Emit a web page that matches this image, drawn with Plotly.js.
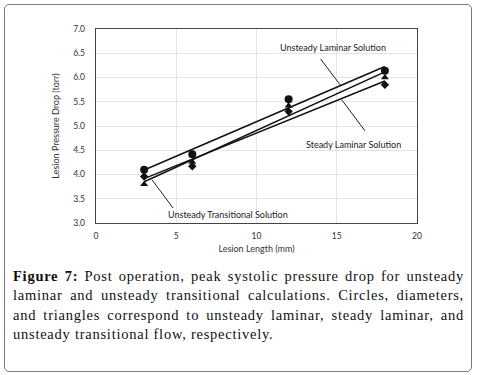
<!DOCTYPE html>
<html>
<head>
<meta charset="utf-8">
<script src="https://cdn.plot.ly/plotly-3.0.1.min.js"></script>
<style>
  html, body { margin: 0; padding: 0; background: #fff; }
  #frame { position: absolute; left: 4px; top: 4px; width: 466px; height: 366px;
           border: 1.3px solid #777; border-radius: 5px; }
  #chart { position: absolute; left: 0; top: 0; width: 477px; height: 260px; }
  #caption { position: absolute; left: 13px; top: 267px; width: 451px;
             font-family: "Liberation Serif", "DejaVu Serif", serif; font-size: 14.5px;
             letter-spacing: 0.75px; line-height: 19.3px; color: #111; }
  #caption div { text-align: justify; text-align-last: justify; white-space: nowrap; }
  #caption div.last { text-align-last: left; }
  #caption b { font-weight: 600; }
</style>
</head>
<body>
<div id="frame"></div>
<div id="chart"></div>
<div id="caption">
  <div><b>Figure 7:</b> Post operation, peak systolic pressure drop for unsteady</div>
  <div>laminar and unsteady transitional calculations. Circles, diameters,</div>
  <div>and triangles correspond to unsteady laminar, steady laminar, and</div>
  <div class="last">unsteady transitional flow, respectively.</div>
</div>
<script>
const lengths = [3, 6, 12, 18];
const unsteadyLaminar = [4.10, 4.42, 5.55, 6.14];
const steadyLaminar = [3.96, 4.17, 5.30, 5.85];
const unsteadyTransitional = [3.80, 4.26, 5.42, 6.00];
const xTicks = [0, 5, 10, 15, 20];

function fit(x, y) {
  const n = x.length;
  const mx = x.reduce((a, b) => a + b, 0) / n;
  const my = y.reduce((a, b) => a + b, 0) / n;
  let sxy = 0, sxx = 0;
  for (let i = 0; i < n; i++) { sxy += (x[i] - mx) * (y[i] - my); sxx += (x[i] - mx) ** 2; }
  const m = sxy / sxx, b = my - m * mx;
  const xs = [Math.min(...x), Math.max(...x)];
  return { x: xs, y: xs.map(v => m * v + b) };
}

const lineStyle = { color: '#111', width: 1.5 };
const traces = [];
[unsteadyLaminar, steadyLaminar, unsteadyTransitional].forEach(s => {
  const f = fit(lengths, s);
  traces.push({ x: f.x, y: f.y, mode: 'lines', line: lineStyle, hoverinfo: 'skip' });
});
traces.push({ x: lengths, y: unsteadyLaminar, mode: 'markers',
  marker: { symbol: 'circle', size: 8, color: '#111' } });
traces.push({ x: lengths, y: steadyLaminar, mode: 'markers',
  marker: { symbol: 'diamond', size: 6.5, color: '#111' } });
traces.push({ x: lengths, y: unsteadyTransitional, mode: 'markers',
  marker: { symbol: 'triangle-up', size: 7, color: '#111' } });

const sans = 'Lato, "Open Sans", sans-serif';
const leader = (x0, y0, x1, y1) => ({ type: 'line', xref: 'x', yref: 'y', x0, y0, x1, y1,
  line: { color: '#222', width: 1 } });
const label = (text, x, y) => ({ text, x, y, xref: 'x', yref: 'y', showarrow: false,
  font: { family: sans, size: 9, color: '#222' } });

const layout = {
  width: 477, height: 260,
  margin: { l: 96, r: 60, t: 29, b: 37 },
  paper_bgcolor: 'rgba(0,0,0,0)', plot_bgcolor: '#fff',
  showlegend: false,
  font: { family: sans, size: 8.5, color: '#333' },
  xaxis: { range: [0, 20], tickvals: xTicks, ticktext: xTicks.map(String),
    showgrid: true, gridcolor: '#e4e4e8', gridwidth: 1, zeroline: false,
    showline: true, linecolor: '#444', linewidth: 1.3, mirror: true,
    ticks: 'outside', ticklen: 4, tickcolor: 'rgba(0,0,0,0)',
    title: { text: 'Lesion Length (mm)', font: { family: sans, size: 9, color: '#333' }, standoff: 6 } },
  yaxis: { range: [3, 7], dtick: 0.5, tick0: 3, tickformat: '.1f',
    showgrid: true, gridcolor: '#e4e4e8', gridwidth: 1, zeroline: false,
    showline: true, linecolor: '#444', linewidth: 1.3, mirror: true,
    ticks: 'outside', ticklen: 8, tickcolor: 'rgba(0,0,0,0)',
    title: { text: 'Lesion Pressure Drop (torr)', font: { family: sans, size: 9, color: '#333' }, standoff: 12 } },
  shapes: [
    leader(14.0, 6.38, 15.23, 5.84),
    leader(15.31, 5.54, 16.76, 4.90),
    leader(3.49, 3.89, 4.80, 3.31)
  ],
  annotations: [
    label('Unsteady Laminar Solution', 14.77, 6.61),
    label('Steady Laminar Solution', 16.07, 4.62),
    label('Unsteady Transitional Solution', 8.22, 3.18)
  ]
};

Plotly.newPlot('chart', traces, layout, { displayModeBar: false, staticPlot: true });
</script>
</body>
</html>
